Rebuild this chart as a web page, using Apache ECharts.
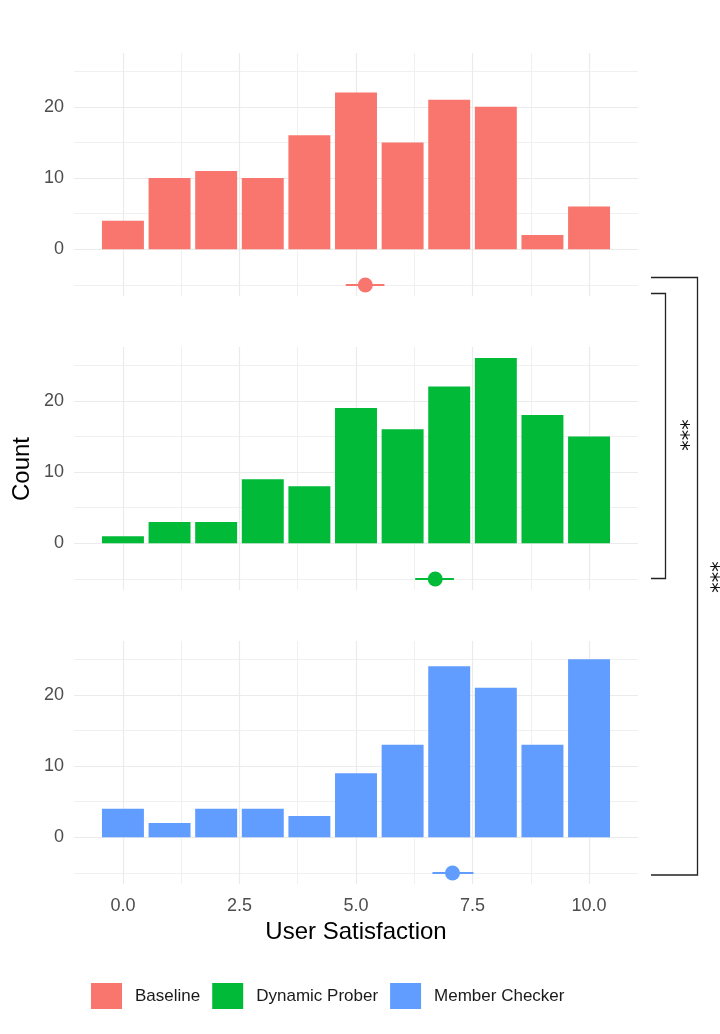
<!DOCTYPE html>
<html>
<head>
<meta charset="utf-8">
<script src="https://cdn.jsdelivr.net/npm/echarts@6/dist/echarts.min.js"></script>
<style>
    html, body { margin: 0; padding: 0; background: #fff; }
    #chart { width: 720px; height: 1034px; }
</style>
</head>
<body>
<div id="chart"></div>
<script>
// data
const groups = ['Baseline', 'Dynamic Prober', 'Member Checker'];
const colors = ['#F8766D', '#00BA38', '#619CFF'];
const scores = [0, 1, 2, 3, 4, 5, 6, 7, 8, 9, 10];
const baselineCounts = [4, 10, 11, 10, 16, 22, 15, 21, 20, 2, 6];
const proberCounts = [1, 3, 3, 9, 8, 19, 16, 22, 26, 18, 15];
const checkerCounts = [4, 2, 4, 4, 3, 9, 13, 24, 21, 13, 25];
const meanScores = [5.20, 6.70, 7.07];
const ciLow = [4.78, 6.27, 6.64];
const ciHigh = [5.61, 7.10, 7.52];
const meanRow = -5;
const xTicks = [0, 2.5, 5, 7.5, 10];
const xMinor = [1.25, 3.75, 6.25, 8.75];
const yTicks = [0, 10, 20];
const yMinor = [-5, 5, 15, 25];

const allCounts = [baselineCounts, proberCounts, checkerCounts];
const font = 'Liberation Sans';

var chart = echarts.init(document.getElementById('chart'));

var grids = [], xAxes = [], yAxes = [], series = [];

for (var i = 0; i < 3; i++) {
    grids.push({ left: 74, right: 82, top: 53 + i * 294, height: 243 });

    // main x axis (labels + major grid)
    xAxes.push({
        type: 'value', gridIndex: i, min: -1.05, max: 11.05,
        axisLine: { show: false },
        axisTick: { show: false, customValues: xTicks },
        axisLabel: {
            show: i === 2, customValues: xTicks, margin: 13,
            fontSize: 18, color: '#4D4D4D', fontFamily: font,
            formatter: function (v) { return v.toFixed(1); }
        },
        splitLine: { show: true, lineStyle: { color: '#EBEBEB', width: 1.2 } },
        name: i === 2 ? 'User Satisfaction' : '',
        nameLocation: 'middle', nameGap: 36,
        nameTextStyle: { fontSize: 24, color: '#000', fontFamily: font }
    });
    // minor x grid
    xAxes.push({
        type: 'value', gridIndex: i, min: -1.05, max: 11.05,
        axisLine: { show: false },
        axisTick: { show: false, customValues: xMinor },
        axisLabel: { show: false, customValues: xMinor },
        splitLine: { show: true, lineStyle: { color: '#F0F0F0', width: 1 } }
    });

    yAxes.push({
        type: 'value', gridIndex: i, min: -6.55, max: 27.55,
        axisLine: { show: false },
        axisTick: { show: false, customValues: yTicks },
        axisLabel: {
            customValues: yTicks, margin: 10,
            fontSize: 18, color: '#4D4D4D', fontFamily: font
        },
        splitLine: { show: true, lineStyle: { color: '#EBEBEB', width: 1.2 } }
    });
    yAxes.push({
        type: 'value', gridIndex: i, min: -6.55, max: 27.55,
        axisLine: { show: false },
        axisTick: { show: false, customValues: yMinor },
        axisLabel: { show: false, customValues: yMinor },
        splitLine: { show: true, lineStyle: { color: '#F0F0F0', width: 1 } }
    });

    // histogram
    series.push({
        name: groups[i],
        type: 'bar',
        xAxisIndex: 2 * i, yAxisIndex: 2 * i,
        barWidth: '90%',
        itemStyle: { color: colors[i] },
        data: scores.map(function (s, j) { return [s, allCounts[i][j]]; }),
        z: 3
    });
    // mean interval
    series.push({
        type: 'line',
        xAxisIndex: 2 * i, yAxisIndex: 2 * i,
        symbol: 'none',
        lineStyle: { color: colors[i], width: 2 },
        data: [[ciLow[i], meanRow], [ciHigh[i], meanRow]],
        z: 4
    });
    // mean point
    series.push({
        type: 'scatter',
        xAxisIndex: 2 * i, yAxisIndex: 2 * i,
        symbolSize: 15,
        itemStyle: { color: colors[i], opacity: 1 },
        data: [[meanScores[i], meanRow]],
        z: 5
    });
}

var option = {
    animation: false,
    backgroundColor: '#fff',
    grid: grids,
    xAxis: xAxes,
    yAxis: yAxes,
    legend: {
        data: groups,
        left: 86, top: 978,
        icon: 'rect',
        itemWidth: 31, itemHeight: 26, itemGap: 12,
        textStyle: { fontSize: 17, color: '#1a1a1a', fontFamily: font, padding: [0, 0, 0, 8] }
    },
    graphic: [
        // y title
        {
            type: 'text', x: 22, y: 469, rotation: Math.PI / 2,
            style: { text: 'Count', fontSize: 24, fontFamily: font, fill: '#000', align: 'center', verticalAlign: 'middle' }
        },
        // significance brackets
        {
            type: 'polyline',
            shape: { points: [[651, 277.5], [697.5, 277.5], [697.5, 875], [651, 875]] },
            style: { stroke: '#222', lineWidth: 1.3, fill: null }
        },
        {
            type: 'polyline',
            shape: { points: [[651, 293.5], [665.5, 293.5], [665.5, 578.5], [651, 578.5]] },
            style: { stroke: '#222', lineWidth: 1.3, fill: null }
        },
        {
            type: 'text', x: 679, y: 435, rotation: -Math.PI / 2,
            style: { text: '***', fontSize: 21, fontFamily: 'DejaVu Sans', fill: '#111', align: 'center', verticalAlign: 'middle' }
        },
        {
            type: 'text', x: 709, y: 577, rotation: -Math.PI / 2,
            style: { text: '***', fontSize: 21, fontFamily: 'DejaVu Sans', fill: '#111', align: 'center', verticalAlign: 'middle' }
        }
    ],
    series: series
};

chart.setOption(option);
</script>
</body>
</html>
